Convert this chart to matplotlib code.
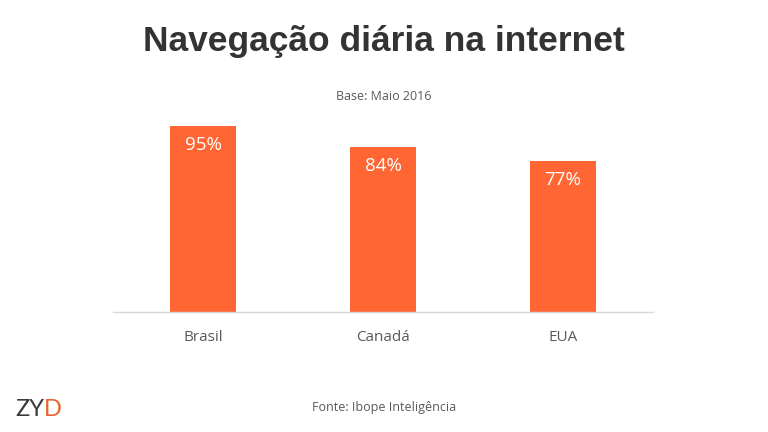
import matplotlib
matplotlib.use("Agg")
import matplotlib.pyplot as plt

# dados
paises = ["Brasil", "Canadá", "EUA"]
valores = [95, 84, 77]
rotulos = ["95%", "84%", "77%"]

laranja = "#FF6633"
cinza = "#595959"

fig = plt.figure(figsize=(7.68, 4.32), dpi=100)
ax = fig.add_axes([113 / 768, 120 / 432, 540 / 768, 196 / 432])

x = range(len(paises))
barras = ax.bar(x, valores, width=0.367, color=laranja)

# rótulos dentro das barras
for b, txt in zip(barras, rotulos):
    ax.annotate(txt, (b.get_x() + b.get_width() / 2, b.get_height()),
                xytext=(0, -19), textcoords="offset pixels",
                ha="center", va="center", color="white", fontsize=13.5,
                family="Open Sans")

ax.set_xlim(-0.5, 2.5)
ax.set_ylim(0, 100)
ax.set_yticks([])
ax.set_xticks(list(x))
ax.set_xticklabels(paises, fontsize=11, color=cinza, family="Open Sans")
ax.tick_params(axis="x", length=0, pad=13)
for s in ["top", "right", "left"]:
    ax.spines[s].set_visible(False)
ax.spines["bottom"].set_color("#D9D9D9")
ax.spines["bottom"].set_linewidth(1)

# textos
fig.text(0.5, 1 - 42 / 432, "Navegação diária na internet", ha="center", va="center",
         fontsize=25.5, fontweight="bold", color="#333333", family="Liberation Sans")
fig.text(0.5, 1 - 97 / 432, "Base: Maio 2016", ha="center", va="center",
         fontsize=9, color=cinza, family="Open Sans")
fig.text(0.5, 1 - 408 / 432, "Fonte: Ibope Inteligência", ha="center", va="center",
         fontsize=9, color=cinza, family="Open Sans")

# logo
t = fig.text(15 / 768, 1 - 409 / 432, "ZY", ha="left", va="center",
             fontsize=17, color="#3A3A3A", family="Lato")
fig.canvas.draw()
bb = t.get_window_extent()
fig.text(bb.x1 / 768, 1 - 409 / 432, "D", ha="left", va="center",
         fontsize=17, color="#E8622C", family="Lato")

fig.savefig("out.png", dpi=100)
